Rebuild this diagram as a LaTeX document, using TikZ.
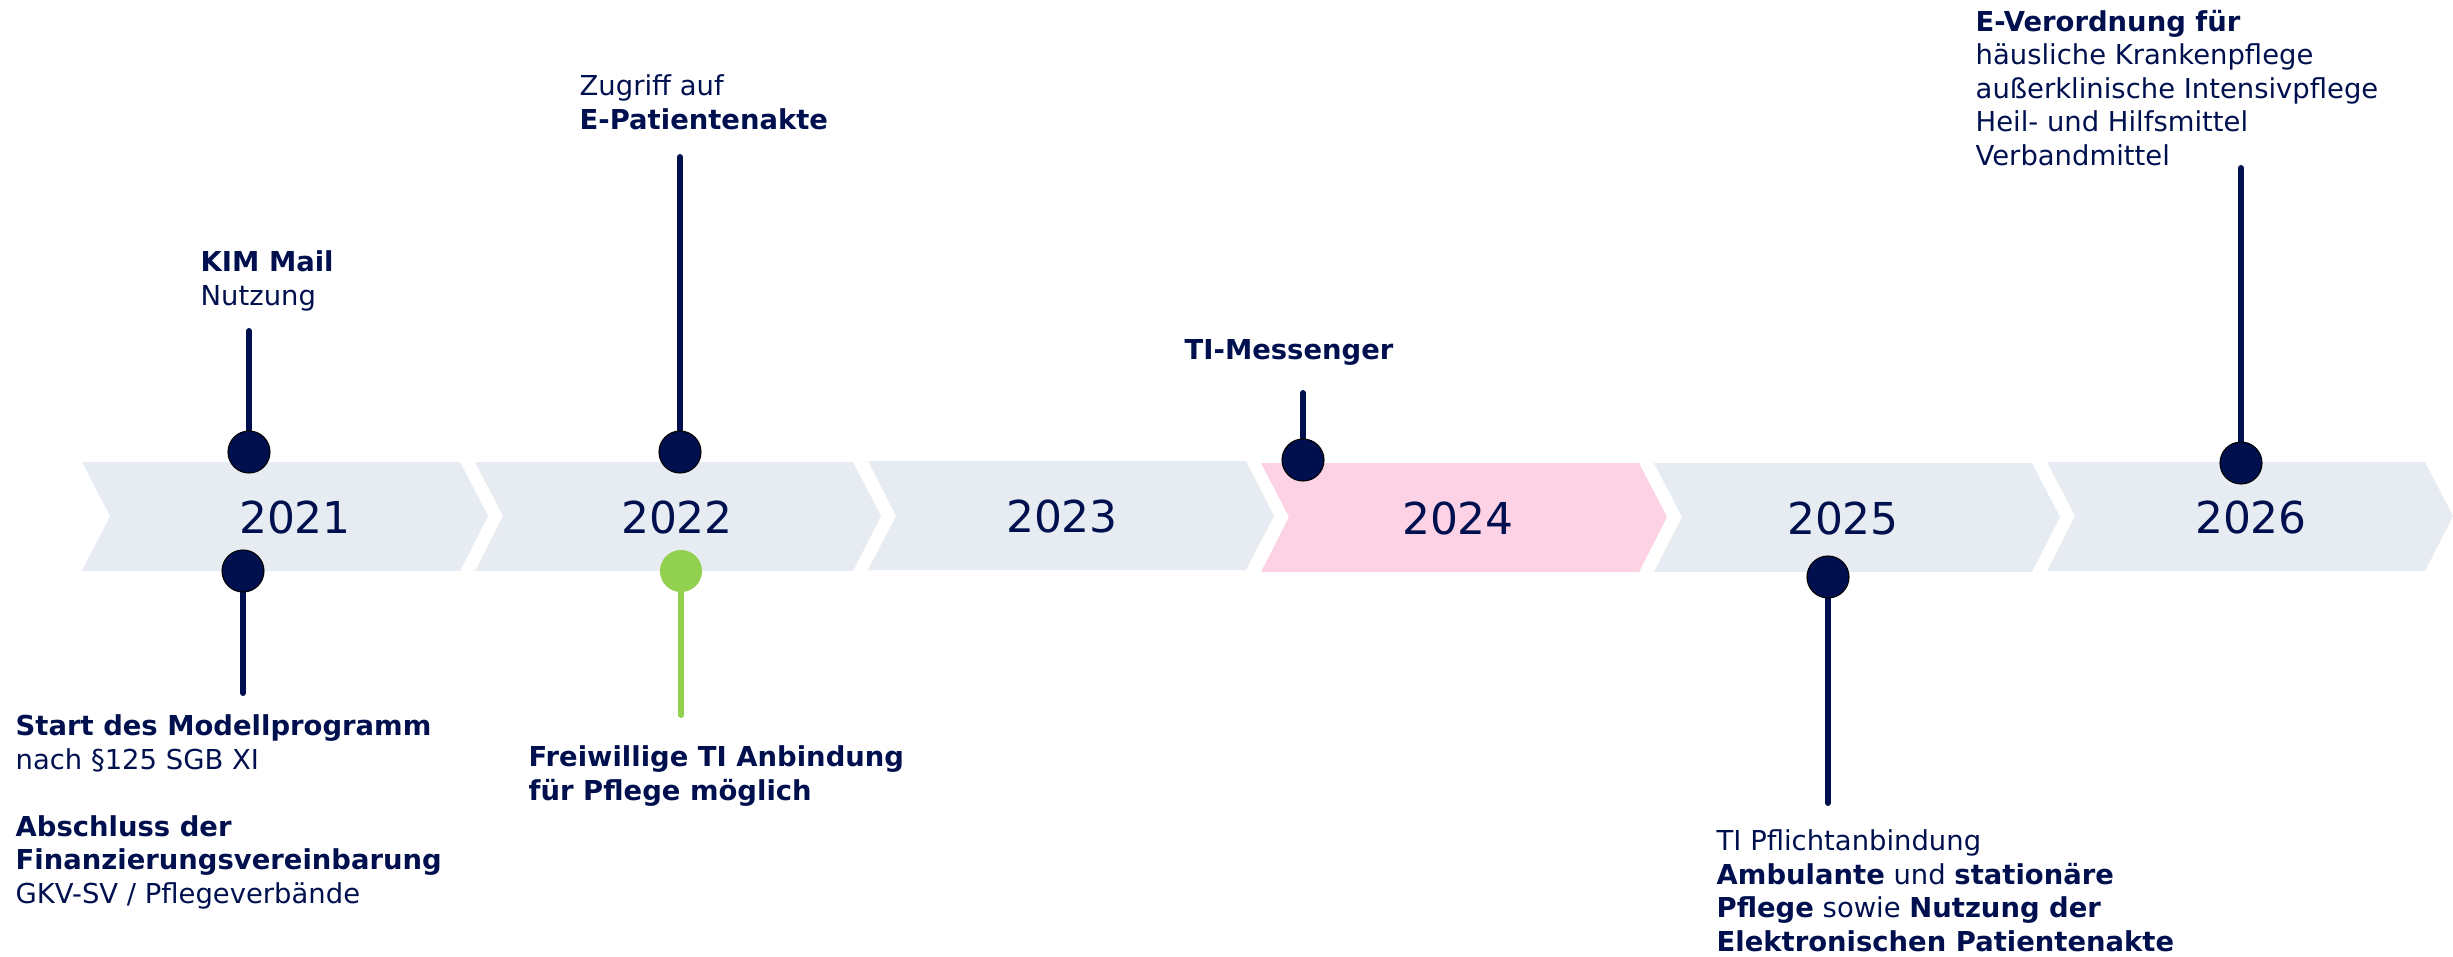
\documentclass[tikz,border=0pt]{standalone}
\usepackage{fontspec}
\setmainfont{DejaVu Sans}
\definecolor{navy}{HTML}{00104F}
\definecolor{chevgray}{HTML}{E7ECF3}
\definecolor{chevpink}{HTML}{FDD2E5}
\definecolor{okgreen}{HTML}{92D050}

\begin{document}
\begin{tikzpicture}[x=0.01cm,y=-0.01cm,
  dot/.style={circle,fill=navy,draw=black,line width=0.3pt,minimum size=0.42cm,inner sep=0pt},
  greendot/.style={circle,fill=okgreen,minimum size=0.42cm,inner sep=0pt},
  stem/.style={navy,line width=1.7pt,line cap=round},
  yearlbl/.style={text=navy,font=\fontsize{12.5}{15}\selectfont,anchor=base,inner sep=0pt},
  lbl/.style={text=navy,font=\fontsize{7.8}{9.5}\selectfont,align=left,anchor=base west,inner sep=0pt}]
\useasboundingbox (0,0) rectangle (2453,957);

\fill[chevgray] (82,462) -- (460,462) -- (488,516) -- (460,571) -- (82,571) -- (110,516) -- cycle;
\fill[chevgray] (475,462) -- (853,462) -- (881,516) -- (853,571) -- (475,571) -- (503,516) -- cycle;
\fill[chevgray] (868,461) -- (1246,461) -- (1274,516) -- (1246,570) -- (868,570) -- (896,516) -- cycle;
\fill[chevpink] (1261,463) -- (1639,463) -- (1667,517) -- (1639,572) -- (1261,572) -- (1289,517) -- cycle;
\fill[chevgray] (1654,463) -- (2032,463) -- (2060,517) -- (2032,572) -- (1654,572) -- (1682,517) -- cycle;
\fill[chevgray] (2047,462) -- (2425,462) -- (2453,516) -- (2425,571) -- (2047,571) -- (2075,516) -- cycle;

\node[yearlbl] (y21) at (295,533) {2021};
\node[yearlbl] (y22) at (677,533) {2022};
\node[yearlbl] (y23) at (1062,532) {2023};
\node[yearlbl] (y24) at (1458,534) {2024};
\node[yearlbl] (y25) at (1843,534) {2025};
\node[yearlbl] (y26) at (2251,533) {2026};

\coordinate (kimtop) at (249,331);
\coordinate (epatop) at (680,157);
\coordinate (msgtop) at (1303,393);
\coordinate (verotop) at (2241,168);
\coordinate (modbot) at (243,693);
\coordinate (tibot) at (681,715);
\coordinate (pflbot) at (1828,803);

\draw[stem] (249,452) -- (kimtop);
\draw[stem] (680,452) -- (epatop);
\draw[stem] (1303,460) -- (msgtop);
\draw[stem] (2241,463) -- (verotop);
\draw[stem] (243,571) -- (modbot);
\draw[stem,okgreen] (681,571) -- (tibot);
\draw[stem] (1828,577) -- (pflbot);

\node[dot] (kim) at (249,452) {};
\node[dot] (epa) at (680,452) {};
\node[dot] (msg) at (1303,460) {};
\node[dot] (vero) at (2241,463) {};
\node[dot] (mod) at (243,571) {};
\node[greendot] (ti) at (681,571) {};
\node[dot] (pfl) at (1828,577) {};

\node[lbl] (kimtxt) at (200,305) {\textbf{KIM Mail}\\Nutzung};
\node[lbl] (epatxt) at (579,129) {Zugriff auf\\\textbf{E-Patientenakte}};
\node[lbl] (msgtxt) at (1184,359) {\textbf{TI-Messenger}};
\node[lbl] (verotxt) at (1975,165) {\textbf{E-Verordnung für}\\häusliche Krankenpflege\\außerklinische Intensivpflege\\Heil- und Hilfsmittel\\Verbandmittel};
\node[lbl] (modtxt) at (15,903) {\textbf{Start des Modellprogramm}\\nach §125 SGB XI\\[9.5pt]\textbf{Abschluss der}\\\textbf{Finanzierungsvereinbarung}\\GKV-SV / Pflegeverbände};
\node[lbl] (titxt) at (528,800) {\textbf{Freiwillige TI Anbindung}\\\textbf{für Pflege möglich}};
\node[lbl] (pfltxt) at (1716,951) {TI Pflichtanbindung\\\textbf{Ambulante} und \textbf{stationäre}\\\textbf{Pflege} sowie \textbf{Nutzung der}\\\textbf{Elektronischen Patientenakte}};

\end{tikzpicture}
\end{document}
